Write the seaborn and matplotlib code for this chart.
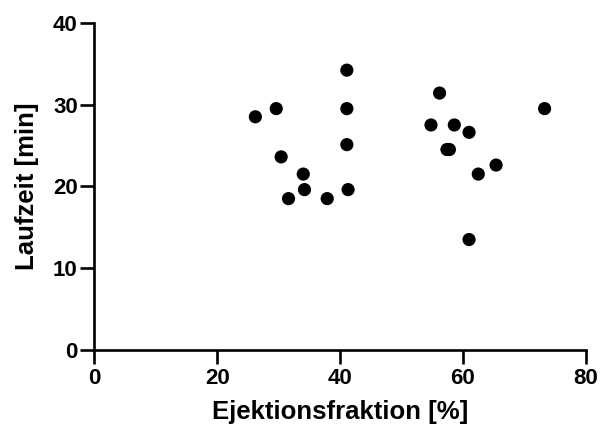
import matplotlib
matplotlib.use("Agg")
import matplotlib.pyplot as plt
import seaborn as sns
import pandas as pd

ejektionsfraktion = [26.2, 29.6, 30.4, 31.6, 34.0, 34.2, 37.9, 41.1, 41.1, 41.1, 41.3,
                     54.8, 56.2, 58.6, 61.0, 57.4, 57.8, 65.4, 62.5, 61.0, 73.3]
laufzeit = [28.5, 29.5, 23.6, 18.5, 21.5, 19.6, 18.5, 34.2, 29.5, 25.1, 19.6,
            27.5, 31.4, 27.5, 26.6, 24.5, 24.5, 22.6, 21.5, 13.5, 29.5]
x_ticks = [0, 20, 40, 60, 80]
y_ticks = [0, 10, 20, 30, 40]

df = pd.DataFrame({"Ejektionsfraktion [%]": ejektionsfraktion, "Laufzeit [min]": laufzeit})

sns.set_style("ticks")
plt.rcParams['font.family'] = ['Liberation Sans', 'DejaVu Sans']
plt.rcParams['font.weight'] = 'bold'
plt.rcParams['text.color'] = 'black'
plt.rcParams['axes.labelcolor'] = 'black'
plt.rcParams['xtick.color'] = 'black'
plt.rcParams['ytick.color'] = 'black'
plt.rcParams['xtick.labelcolor'] = 'black'
plt.rcParams['ytick.labelcolor'] = 'black'

fig = plt.figure(figsize=(6.01, 4.33), dpi=100)
ax = fig.add_axes([0.1572, 0.1917, 0.8174, 0.7559])
sns.scatterplot(data=df, x="Ejektionsfraktion [%]", y="Laufzeit [min]", ax=ax,
                color="black", s=90, edgecolor="none", linewidth=0)
ax.set_xlim(0, 80)
ax.set_ylim(0, 40)
ax.set_xticks(x_ticks)
ax.set_yticks(y_ticks)
ax.tick_params(axis="both", direction="out", length=10, width=1.9, labelsize=16,
               color="black", labelcolor="black")
ax.tick_params(axis="x", pad=3)
ax.tick_params(axis="y", pad=2)
for lab in ax.get_xticklabels() + ax.get_yticklabels():
    lab.set_fontweight("bold")
for side in ["top", "right"]:
    ax.spines[side].set_visible(False)
for side in ["left", "bottom"]:
    ax.spines[side].set_linewidth(1.9)
    ax.spines[side].set_color("black")
ax.set_xlabel("Ejektionsfraktion [%]", fontsize=18.5, fontweight="bold", labelpad=8, color="black")
ax.set_ylabel("Laufzeit [min]", fontsize=18.5, fontweight="bold", labelpad=10, color="black")

fig.savefig("out.png", dpi=100)
